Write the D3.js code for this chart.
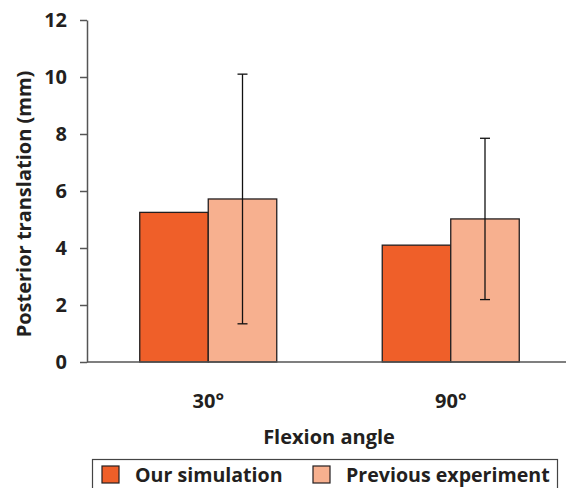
<!DOCTYPE html>
<html>
<head>
<meta charset="utf-8">
<script src="https://cdn.jsdelivr.net/npm/d3@7"></script>
<style>
  body { margin: 0; background: #fff; }
  svg text { font-family: "Open Sans", sans-serif; font-weight: bold; fill: #231f20; }
</style>
</head>
<body>
<svg id="chart" width="566" height="488"></svg>
<script>
const angles = ["30°", "90°"];
const seriesNames = ["Our simulation", "Previous experiment"];
const simulation = [5.25, 4.1];
const experiment = [5.72, 5.02];
const experimentErr = [4.38, 2.83];
const yTicks = [0, 2, 4, 6, 8, 10, 12];
const colors = ["#ef5f29", "#f7b08f"];

const svg = d3.select("svg#chart");
const margin = { left: 87, top: 20, bottom: 362 };

const x = d3.scaleBand()
  .domain(angles)
  .range([margin.left, 572])
  .paddingInner(0)
  .paddingOuter(0);

const inner = d3.scaleBand()
  .domain(seriesNames)
  .range([0, x.bandwidth()])
  .paddingOuter(0.77)
  .paddingInner(0);

const y = d3.scaleLinear().domain([0, 12]).range([margin.bottom, margin.top]);

// bars
const groups = svg.append("g")
  .selectAll("g")
  .data(angles)
  .join("g")
  .attr("transform", d => `translate(${x(d)},0)`);

groups.selectAll("rect")
  .data((d, i) => [
    { s: seriesNames[0], v: simulation[i], c: colors[0] },
    { s: seriesNames[1], v: experiment[i], c: colors[1] }
  ])
  .join("rect")
  .attr("x", d => inner(d.s))
  .attr("y", d => y(d.v))
  .attr("width", inner.bandwidth())
  .attr("height", d => y(0) - y(d.v))
  .attr("fill", d => d.c)
  .attr("stroke", "#231f20")
  .attr("stroke-width", 1.3);

// error bars on experiment
const err = groups.append("g")
  .attr("stroke", "#111")
  .attr("stroke-width", 1.3);
const cx = inner(seriesNames[1]) + inner.bandwidth() / 2;
err.append("line")
  .attr("x1", cx).attr("x2", cx)
  .attr("y1", (d, i) => y(experiment[i] + experimentErr[i]))
  .attr("y2", (d, i) => y(experiment[i] - experimentErr[i]));
err.append("line")
  .attr("x1", cx - 5).attr("x2", cx + 5)
  .attr("y1", (d, i) => y(experiment[i] + experimentErr[i]))
  .attr("y2", (d, i) => y(experiment[i] + experimentErr[i]));
err.append("line")
  .attr("x1", cx - 5).attr("x2", cx + 5)
  .attr("y1", (d, i) => y(experiment[i] - experimentErr[i]))
  .attr("y2", (d, i) => y(experiment[i] - experimentErr[i]));

// y axis
const yAxis = svg.append("g")
  .attr("transform", `translate(${margin.left},0)`)
  .call(d3.axisLeft(y).tickValues(yTicks).tickSize(7).tickPadding(13).tickSizeOuter(0));
yAxis.select(".domain").attr("stroke", "#555").attr("stroke-width", 1.5);
yAxis.selectAll(".tick line").attr("stroke", "#555").attr("stroke-width", 1.5);
yAxis.selectAll(".tick text")
  .attr("font-family", "Open Sans, sans-serif")
  .attr("font-weight", "bold")
  .attr("font-size", 20)
  .attr("fill", "#231f20");

// x baseline
svg.append("line")
  .attr("x1", margin.left).attr("x2", 566)
  .attr("y1", y(0)).attr("y2", y(0))
  .attr("stroke", "#555").attr("stroke-width", 1.5);

// x tick labels
svg.append("g")
  .selectAll("text")
  .data(angles)
  .join("text")
  .attr("x", d => x(d) + x.bandwidth() / 2)
  .attr("y", 408)
  .attr("text-anchor", "middle")
  .attr("font-size", 20)
  .text(d => d);

// axis titles
svg.append("text")
  .attr("x", 329)
  .attr("y", 444)
  .attr("text-anchor", "middle")
  .attr("font-size", 20)
  .text("Flexion angle");

svg.append("text")
  .attr("transform", "translate(31,204) rotate(-90)")
  .attr("text-anchor", "middle")
  .attr("font-size", 20)
  .text("Posterior translation (mm)");

// legend
svg.append("rect")
  .attr("x", 92.5).attr("y", 459.5)
  .attr("width", 465).attr("height", 40)
  .attr("fill", "none")
  .attr("stroke", "#444")
  .attr("stroke-width", 1.2);

const legendX = [102, 313];
const legend = svg.append("g")
  .selectAll("g")
  .data(seriesNames)
  .join("g")
  .attr("transform", (d, i) => `translate(${legendX[i]},466)`);
legend.append("rect")
  .attr("width", 17).attr("height", 17)
  .attr("fill", (d, i) => colors[i])
  .attr("stroke", "#231f20")
  .attr("stroke-width", 1.2);
legend.append("text")
  .attr("x", 33)
  .attr("y", 16)
  .attr("font-size", 19.6)
  .text(d => d);
</script>
</body>
</html>
